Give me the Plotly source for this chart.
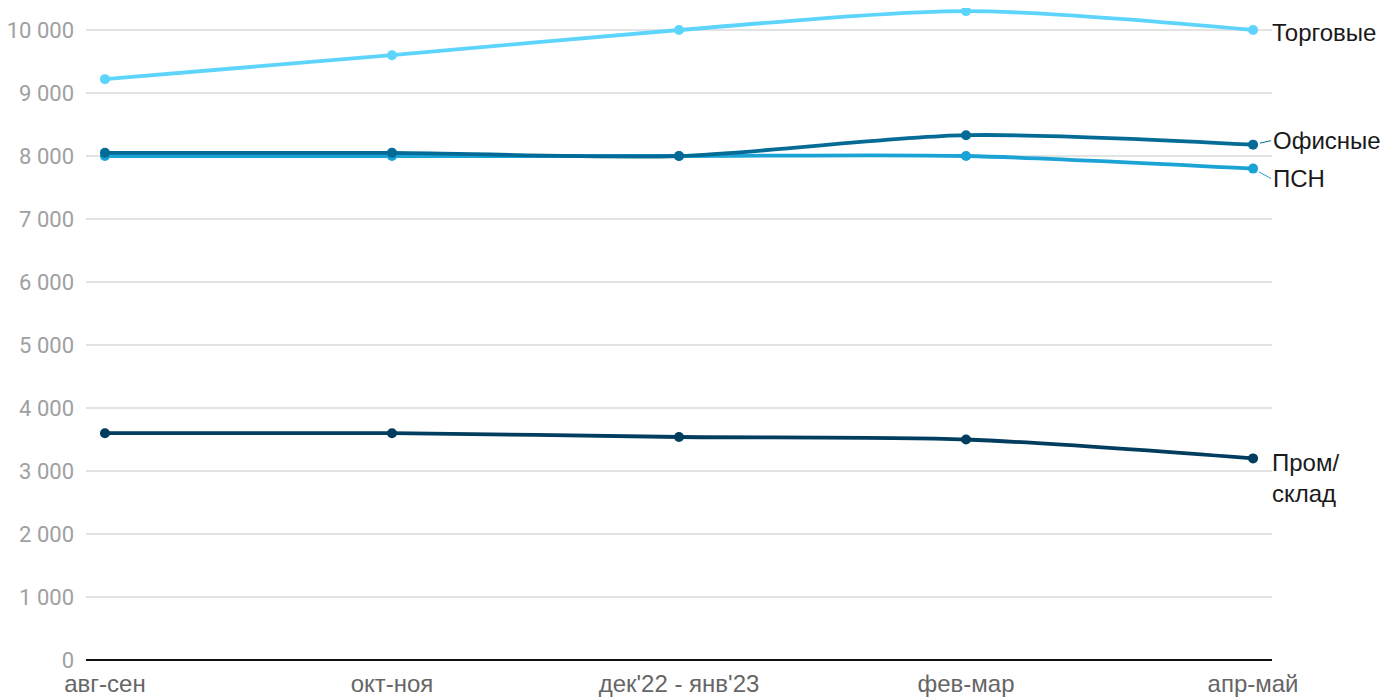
import plotly.graph_objects as go

categories = ["авг-сен", "окт-ноя", "дек'22 - янв'23", "фев-мар", "апр-май"]
torg = [9220, 9600, 10000, 10300, 10000]
ofis = [8050, 8050, 8000, 8330, 8180]
psn = [8000, 8000, 8000, 8000, 7800]
prom = [3600, 3600, 3540, 3500, 3200]
series_names = ["Торговые", "Офисные", "ПСН", "Пром/<br>склад"]
colors = ["#5dd4fc", "#046b97", "#1ba3d6", "#003d5e"]
y_tickvals = [0, 1000, 2000, 3000, 4000, 5000, 6000, 7000, 8000, 9000, 10000]
y_ticktext = ["0", "1 000", "2 000", "3 000", "4 000", "5 000", "6 000", "7 000", "8 000", "9 000", "10 000"]

xs = list(range(len(categories)))
fig = go.Figure()
for vals, col in zip([prom, psn, ofis, torg], [colors[3], colors[2], colors[1], colors[0]]):
    fig.add_trace(go.Scatter(
        x=xs, y=vals, mode="lines+markers",
        line=dict(color=col, width=3.8, shape="spline", smoothing=0.8),
        marker=dict(color=col, size=10),
        cliponaxis=False, showlegend=False, hoverinfo="skip"))

label_font = dict(family="Liberation Sans, Arial", size=24, color="#1a1a1a")
# Торговые
fig.add_annotation(x=4, y=torg[-1], text=series_names[0], showarrow=False,
                   xanchor="left", yanchor="middle", xshift=17, yshift=-3, font=label_font)
# Офисные
fig.add_annotation(x=4, y=ofis[-1], text=series_names[1], showarrow=True,
                   arrowhead=0, arrowwidth=1, arrowcolor=colors[1], standoff=7,
                   ax=18, ay=-4, xanchor="left", yanchor="middle", font=label_font)
# ПСН
fig.add_annotation(x=4, y=psn[-1], text=series_names[2], showarrow=True,
                   arrowhead=0, arrowwidth=1, arrowcolor=colors[2], standoff=7,
                   ax=18, ay=10, xanchor="left", yanchor="middle", font=label_font)
# Пром/склад
fig.add_annotation(x=4, y=prom[-1], text=series_names[3], showarrow=False,
                   xanchor="left", yanchor="top", align="left", xshift=17, yshift=11,
                   font=label_font)

fig.update_layout(
    width=1400, height=700,
    margin=dict(l=78, r=136, t=0, b=48),
    plot_bgcolor="white", paper_bgcolor="white",
    xaxis=dict(
        tickmode="array", tickvals=xs, ticktext=categories, automargin=False,
        range=[-0.066, 4.066], showgrid=False, zeroline=False,
        showline=False, ticks="", ticklabelstandoff=7,
        tickfont=dict(family="Liberation Sans, Arial", size=24, color="#666666"),
    ),
    yaxis=dict(
        tickmode="array", tickvals=y_tickvals, ticktext=y_ticktext, automargin=False,
        range=[0, 10349], showgrid=True, gridcolor="#e3e3e3", gridwidth=1.5,
        zeroline=True, zerolinecolor="#111111", zerolinewidth=2,
        showline=False, ticks="", ticklabelstandoff=11,
        tickfont=dict(family="Roboto", size=22, color="#a0a0a0"),
    ),
)
fig.write_html("out.html")
